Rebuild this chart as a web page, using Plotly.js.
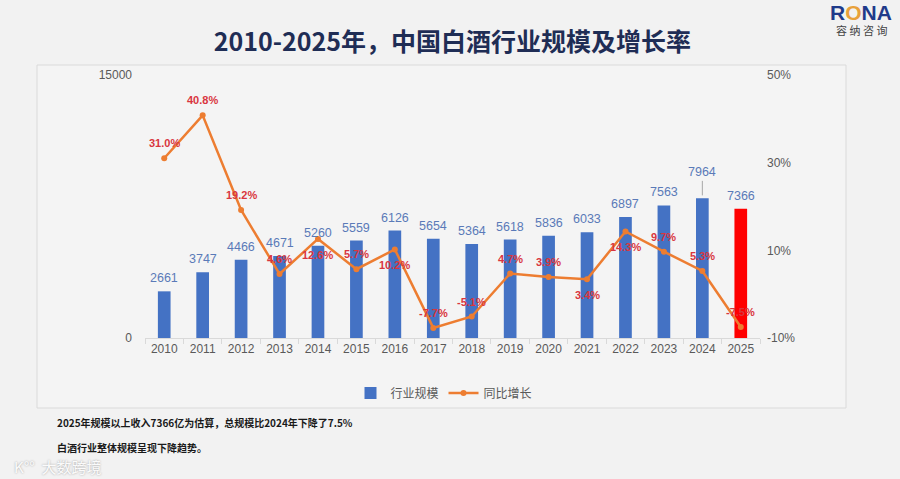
<!DOCTYPE html>
<html>
<head>
<meta charset="utf-8">
<script src="https://cdn.plot.ly/plotly-3.0.1.min.js"></script>
<style>
html,body{margin:0;padding:0;background:#f2f2f2;}
#chart{width:900px;height:479px;}
</style>
</head>
<body>
<div id="chart"></div>
<script>
// ---- data ----
const years = ['2010','2011','2012','2013','2014','2015','2016','2017','2018','2019','2020','2021','2022','2023','2024','2025'];
const scale = [2661,3747,4466,4671,5260,5559,6126,5654,5364,5618,5836,6033,6897,7563,7964,7366];
const growth = [31.0,40.8,19.2,4.6,12.6,5.7,10.2,-7.7,-5.1,4.7,3.9,3.4,14.3,9.7,5.3,-7.5];
const estimateYear = '2025';
const seriesNames = ['行业规模','同比增长'];
const titleText = '2010-2025年，中国白酒行业规模及增长率';
const noteLines = ['2025年规模以上收入7366亿为估算，总规模比2024年下降了7.5%','白酒行业整体规模呈现下降趋势。'];
const leftTicks = [0,15000];
const rightTicks = [-10,10,30,50];

// ---- styling / layout helpers ----
const L = 145, R = 760, T = 75, B = 338;
const px2x = p => (p - L) / (R - L);
const px2y = p => (B - p) / (B - T);
const BLUE = '#4472C4', RED = '#FF0000', ORANGE = '#ED7D31', LBL_RED = '#D9363E', LBL_BLUE = '#5A7AB8', GRAY = '#595959';
const FONT = 'Liberation Sans, Arial, sans-serif';
const CJK = 'Noto Sans CJK SC, sans-serif';
const belowYears = ['2014','2016','2021','2022'];
const leaderYears = ['2024'];

const barTrace = {
  type: 'bar', x: years, y: scale, name: seriesNames[0],
  marker: {color: years.map(y => y === estimateYear ? RED : BLUE)},
  width: 0.33, hoverinfo: 'x+y'
};
const lineTrace = {
  type: 'scatter', mode: 'lines+markers', x: years, y: growth, yaxis: 'y2', name: seriesNames[1],
  line: {color: ORANGE, width: 2.5}, marker: {color: ORANGE, size: 6}, cliponaxis: false
};

const annotations = [];
years.forEach((yr, i) => {
  // category axis: use the category index so numeric-looking names are not read as positions
  if (leaderYears.includes(yr)) {
    annotations.push({x: i, y: scale[i], xref: 'x', yref: 'y', text: String(scale[i]),
      showarrow: true, ax: 0, ay: -26, arrowhead: 0, arrowwidth: 1, arrowcolor: '#a6a6a6', standoff: 3,
      font: {family: FONT, size: 12.5, color: LBL_BLUE}});
  } else {
    annotations.push({x: i, y: scale[i], xref: 'x', yref: 'y', text: String(scale[i]),
      showarrow: false, yshift: 13, font: {family: FONT, size: 12.5, color: LBL_BLUE}});
  }
  const below = belowYears.includes(yr);
  annotations.push({x: i, y: growth[i], xref: 'x', yref: 'y2', text: growth[i].toFixed(1) + '%',
    showarrow: false, yshift: below ? -16 : 15, font: {family: FONT, size: 11, color: LBL_RED, weight: 'bold'}});
});
// notes
noteLines.forEach((t, k) => {
  annotations.push({xref: 'paper', yref: 'paper', x: px2x(55), y: px2y(k === 0 ? 422 : 447), xanchor: 'left', yanchor: 'middle',
    text: '<b>' + t + '</b>', showarrow: false, font: {family: CJK, size: 10, color: '#1a1a1a'}});
});
// logo
annotations.push({xref: 'paper', yref: 'paper', x: px2x(861), y: px2y(12), xanchor: 'center', yanchor: 'middle', showarrow: false,
  text: '<b>R<span style="color:#E8A13A">O</span>NA</b>', font: {family: FONT, size: 21, color: '#1F3A8A'}});
annotations.push({xref: 'paper', yref: 'paper', x: px2x(861), y: px2y(30), xanchor: 'center', yanchor: 'middle', showarrow: false,
  text: '容 纳 咨 询', font: {family: CJK, size: 11, color: '#444'}});
// watermark
annotations.push({xref: 'paper', yref: 'paper', x: px2x(12), y: px2y(467), xanchor: 'left', yanchor: 'middle', showarrow: false,
  text: 'K°°  大数跨境', font: {family: CJK, size: 15, color: 'rgba(255,255,255,0.95)', shadow: '0px 0px 2px #9a9a9a'}});

const layout = {
  width: 900, height: 479,
  margin: {l: L, r: 900 - R, t: T, b: 479 - B},
  paper_bgcolor: '#f2f2f2', plot_bgcolor: 'rgba(0,0,0,0)',
  title: {text: '<b>' + titleText + '</b>', x: 0.5, xref: 'paper', y: 1 - 42 / 479, yref: 'container', yanchor: 'middle',
    font: {family: CJK, size: 25, color: '#1F2D55'}},
  showlegend: true,
  legend: {orientation: 'h', x: px2x(444), xanchor: 'center', y: px2y(393), yanchor: 'middle',
    font: {family: CJK, size: 12, color: GRAY}, bgcolor: 'rgba(0,0,0,0)', itemwidth: 30},
  xaxis: {type: 'category', range: [-0.5, years.length - 0.5], showgrid: false, showline: true, linecolor: '#d9d9d9', linewidth: 1,
    ticks: 'outside', tickson: 'boundaries', ticklen: 5, tickcolor: '#d9d9d9', tickangle: 0,
    tickfont: {family: FONT, size: 12, color: GRAY}},
  yaxis: {range: [0, 15000], tickvals: leftTicks, ticktext: leftTicks.map(String), showgrid: false, zeroline: false, showline: false,
    ticklabelstandoff: 12, tickfont: {family: FONT, size: 12, color: GRAY}},
  yaxis2: {range: [-10, 50], tickvals: rightTicks, ticktext: rightTicks.map(v => v + '%'), overlaying: 'y', side: 'right',
    showgrid: false, zeroline: false, showline: false, ticklabelstandoff: 6, tickfont: {family: FONT, size: 12, color: GRAY}},
  shapes: [{type: 'rect', xref: 'paper', yref: 'paper', x0: px2x(37), x1: px2x(846), y0: px2y(408), y1: px2y(65),
    fillcolor: '#f4f4f4', line: {color: '#dadada', width: 1}, layer: 'below'}],
  annotations: annotations
};

Plotly.newPlot('chart', [barTrace, lineTrace], layout, {displayModeBar: false, staticPlot: true});
</script>
</body>
</html>
